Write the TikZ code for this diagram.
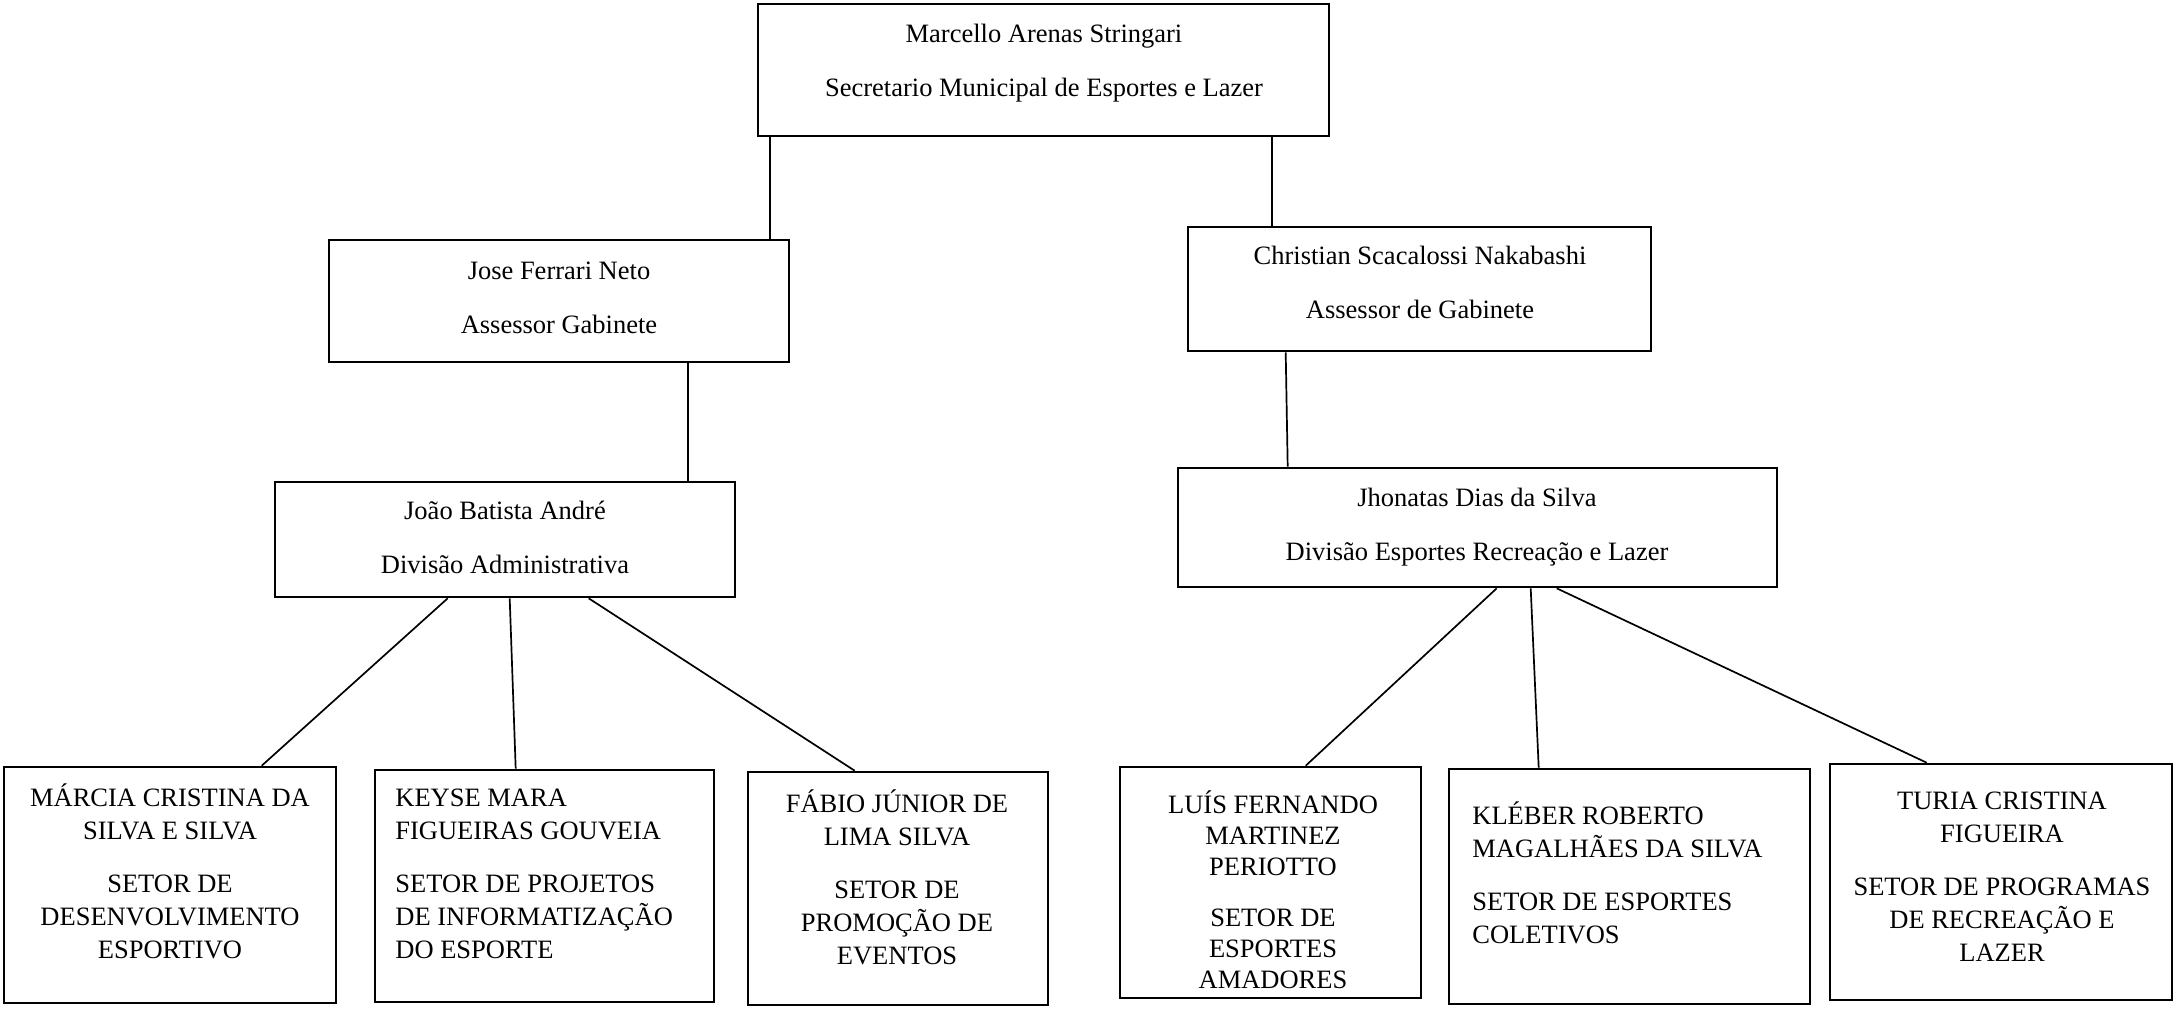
\documentclass[tikz,border=0pt]{standalone}
\usepackage{fontspec}
\setmainfont{Liberation Serif}
\usetikzlibrary{calc}
\begin{document}
\begin{tikzpicture}[x=0.5pt,y=-0.5pt,
  box/.style={draw=black, line width=1.3pt, rectangle, inner sep=0pt},
  txt/.style={inner sep=0pt, align=center, font=\fontsize{13.25}{16.5}\selectfont, text=black, anchor=north},
  txtl/.style={txt, align=left, anchor=north west},
  link/.style={draw=black, line width=0.85pt}]
\useasboundingbox (0,0) rectangle (2179,1009);
% boxes
\node[box, minimum width=285.5pt, minimum height=66pt] (T) at (1043.5,70) {};
\node[box, minimum width=230pt, minimum height=61pt] (J) at (559,301) {};
\node[box, minimum width=231.5pt, minimum height=62pt] (C) at (1419.5,289) {};
\node[box, minimum width=230pt, minimum height=57.5pt] (A) at (505,539.5) {};
\node[box, minimum width=299.5pt, minimum height=59.5pt] (H) at (1477.5,527.5) {};
\node[box, minimum width=166pt, minimum height=118pt] (M) at (170,885) {};
\node[box, minimum width=169.5pt, minimum height=116pt] (K) at (544.5,886) {};
\node[box, minimum width=150pt, minimum height=116.5pt] (F) at (898,888.5) {};
\node[box, minimum width=150.5pt, minimum height=115.5pt] (L) at (1270.5,882.5) {};
\node[box, minimum width=180.5pt, minimum height=117.5pt] (KL) at (1629.5,886.5) {};
\node[box, minimum width=171pt, minimum height=118pt] (TU) at (2001,882) {};
% texts
\node[txt] (Tt) at (1044,18.7) {\strut Marcello Arenas Stringari\\[10.5pt]\strut Secretario Municipal de Esportes e Lazer};
\node[txt] (Jt) at (559,255.7) {\strut Jose Ferrari Neto\\[10.5pt]\strut Assessor Gabinete};
\node[txt] (Ct) at (1420,240.7) {\strut Christian Scacalossi Nakabashi\\[10.5pt]\strut Assessor de Gabinete};
\node[txt] (At) at (505,495.7) {\strut João Batista André\\[10.5pt]\strut Divisão Administrativa};
\node[txt] (Ht) at (1477,482.7) {\strut Jhonatas Dias da Silva\\[10.5pt]\strut Divisão Esportes Recreação e Lazer};
\node[txt] (Mt) at (170,782.7) {\strut MÁRCIA CRISTINA DA\\\strut SILVA E SILVA\\[10pt]\strut SETOR DE\\\strut DESENVOLVIMENTO\\\strut ESPORTIVO};
\node[txtl] (Kt) at (395,782.7) {\strut KEYSE MARA\\\strut FIGUEIRAS GOUVEIA\\[10pt]\strut SETOR DE PROJETOS\\\strut DE INFORMATIZAÇÃO\\\strut DO ESPORTE};
\node[txt] (Ft) at (897,788.7) {\strut FÁBIO JÚNIOR DE\\\strut LIMA SILVA\\[10pt]\strut SETOR DE\\\strut PROMOÇÃO DE\\\strut EVENTOS};
\node[txt, font=\fontsize{13.25}{15.5}\selectfont] (Lt) at (1273,790) {\strut LUÍS FERNANDO\\\strut MARTINEZ\\\strut PERIOTTO\\[10pt]\strut SETOR DE\\\strut ESPORTES\\\strut AMADORES};
\node[txtl] (KLt) at (1472,800.7) {\strut KLÉBER ROBERTO\\\strut MAGALHÃES DA SILVA\\[10pt]\strut SETOR DE ESPORTES\\\strut COLETIVOS};
\node[txt] (TUt) at (2002,785.7) {\strut TURIA CRISTINA\\\strut FIGUEIRA\\[10pt]\strut SETOR DE PROGRAMAS\\\strut DE RECREAÇÃO E\\\strut LAZER};
% connectors
\draw[link] ($(T.south west)+(13,0)$) -- ($(J.north west)+(442,0)$);
\draw[link] ($(T.south west)+(515,0)$) -- ($(C.north west)+(85,0)$);
\draw[link] ($(J.south west)+(360,0)$) -- ($(A.north west)+(414,0)$);
\draw[link] ($(C.south west)+(99,0)$) -- ($(H.north west)+(111,0)$);
\draw[link] ($(A.south west)+(174,0)$) -- ($(M.north west)+(259,0)$);
\draw[link] ($(A.south west)+(236,0)$) -- ($(K.north west)+(142,0)$);
\draw[link] ($(A.south west)+(315,0)$) -- ($(F.north west)+(108,0)$);
\draw[link] ($(H.south west)+(320,0)$) -- ($(L.north west)+(187,0)$);
\draw[link] ($(H.south west)+(354,0)$) -- ($(KL.north west)+(91,0)$);
\draw[link] ($(H.south west)+(380,0)$) -- ($(TU.north west)+(98,0)$);
\end{tikzpicture}
\end{document}
